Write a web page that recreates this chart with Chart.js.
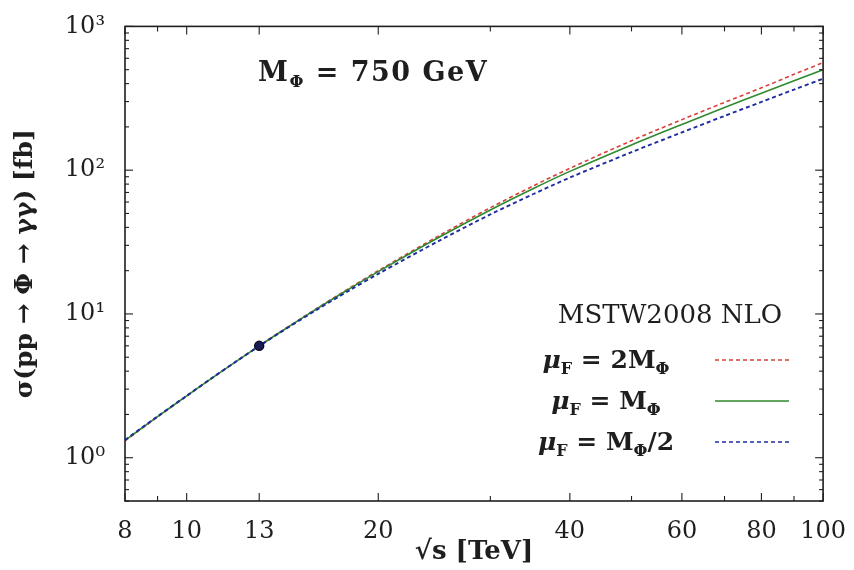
<!DOCTYPE html>
<html>
<head>
<meta charset="utf-8">
<script src="https://cdn.jsdelivr.net/npm/chart.js@4/dist/chart.umd.min.js"></script>
<style>
  html, body { margin: 0; padding: 0; background: #ffffff; }
  #wrap { width: 854px; height: 570px; }
</style>
</head>
<body>
<div id="wrap"><canvas id="c" width="854" height="570"></canvas></div>
<script>
// Centre-of-mass energy sqrt(s) in TeV
const sqrtS = [8, 9, 10, 11, 12, 13, 14, 16, 18, 20, 25, 30, 35, 40, 50, 60, 70, 80, 90, 100];

// sigma(pp -> Phi -> gamma gamma) in fb for three factorisation scales
const xsecMuF2M   = [1.31, 1.92, 2.68, 3.61, 4.72, 6.01, 7.46, 10.91, 15.06, 20.0, 35.3, 54.8, 77.5, 103.0, 160.4, 224.7, 296.0, 374.0, 464.0, 560.0];
const xsecMuFM    = [1.32, 1.93, 2.69, 3.62, 4.72, 6.00, 7.43, 10.83, 14.91, 19.7, 34.4, 52.9, 74.3, 98.1, 149.9, 208.1, 272.6, 343.0, 419.1, 500.3];
const xsecMuFHalf = [1.33, 1.94, 2.70, 3.63, 4.72, 5.98, 7.39, 10.67, 14.54, 19.01, 32.5, 49.2, 68.0, 88.8, 133.4, 183.1, 238.5, 298.4, 363.4, 432.8];

// 13 TeV reference point
const point13 = [{ x: 13, y: 6.0 }];

// Axis ranges and ticks
const xRange = [8, 100];
const yRange = [0.5, 1000];
const xMajorTicks = [8, 10, 13, 20, 40, 60, 80, 100];
const xMinorTicks = [9, 30, 50, 70, 90];
const yMajorTicks = [1, 10, 100, 1000];
const yTickLabels = ['10\u2070', '10\u00B9', '10\u00B2', '10\u00B3'];

const SERIF = "'DejaVu Serif', 'Liberation Serif', serif";
const INK = '#1e1e1e';
const RED = '#d8403c';
const GREEN = '#2f8a2f';
const BLUE = '#1f2ca0';

const toPoints = (vals) => sqrtS.map((s, i) => ({ x: s, y: vals[i] }));

// Draws a run of text pieces with their own fonts and vertical shifts
function drawRich(ctx, parts, x, y, align, spacing) {
  ctx.save();
  ctx.textBaseline = 'alphabetic';
  ctx.textAlign = 'left';
  if (spacing) ctx.letterSpacing = spacing + 'px';
  let total = 0;
  const widths = parts.map(p => { ctx.font = p.font; const w = ctx.measureText(p.t).width; total += w; return w; });
  let cx = align === 'right' ? x - total : align === 'center' ? x - total / 2 : x;
  parts.forEach((p, i) => {
    ctx.font = p.font;
    ctx.fillStyle = p.color || INK;
    ctx.fillText(p.t, cx, y + (p.dy || 0));
    cx += widths[i];
  });
  ctx.restore();
}

// Frame with inward ticks on all four sides
const frameTicks = {
  id: 'frameTicks',
  afterDatasetsDraw(chart) {
    const { ctx, chartArea: a, scales: { x, y } } = chart;
    ctx.save();
    ctx.strokeStyle = INK;
    ctx.lineWidth = 1.6;
    ctx.strokeRect(a.left, a.top, a.right - a.left, a.bottom - a.top);
    ctx.lineWidth = 1.1;
    const seg = (x1, y1, x2, y2) => { ctx.beginPath(); ctx.moveTo(x1, y1); ctx.lineTo(x2, y2); ctx.stroke(); };
    xMajorTicks.forEach(v => { const p = x.getPixelForValue(v); seg(p, a.bottom, p, a.bottom - 8); seg(p, a.top, p, a.top + 8); });
    xMinorTicks.forEach(v => { const p = x.getPixelForValue(v); seg(p, a.bottom, p, a.bottom - 5); seg(p, a.top, p, a.top + 5); });
    yMajorTicks.forEach(v => { const p = y.getPixelForValue(v); seg(a.left, p, a.left + 8, p); seg(a.right, p, a.right - 8, p); });
    [0.1, 1, 10, 100].forEach(base => {
      for (let m = 2; m <= 9; m++) {
        const v = m * base;
        if (v < yRange[0] || v > yRange[1]) continue;
        const p = y.getPixelForValue(v);
        seg(a.left, p, a.left + 4, p); seg(a.right, p, a.right - 4, p);
      }
    });
    ctx.restore();
  }
};

// Mass label and scale legend inside the plot
const annotations = {
  id: 'annotations',
  afterDraw(chart) {
    const ctx = chart.ctx;
    const big = `bold 27px ${SERIF}`;
    const sub = `bold 16px ${SERIF}`;
    drawRich(ctx, [
      { t: 'M', font: big }, { t: '\u03A6', font: sub, dy: 6 }, { t: ' = 750 GeV', font: big }
    ], 258, 81, 'left', 1.5);

    drawRich(ctx, [{ t: 'MSTW2008 NLO', font: `26px ${SERIF}` }], 670, 323, 'center');

    const mu = `bold italic 25px ${SERIF}`;
    const txt = `bold 25px ${SERIF}`;
    const rows = [
      { y: 368, parts: [{ t: '\u03BC', font: mu }, { t: 'F', font: sub, dy: 6 }, { t: ' = 2M', font: txt }, { t: '\u03A6', font: sub, dy: 6 }], color: RED, dash: [4, 3] },
      { y: 409, parts: [{ t: '\u03BC', font: mu }, { t: 'F', font: sub, dy: 6 }, { t: ' = M', font: txt }, { t: '\u03A6', font: sub, dy: 6 }], color: GREEN, dash: [] },
      { y: 450, parts: [{ t: '\u03BC', font: mu }, { t: 'F', font: sub, dy: 6 }, { t: ' = M', font: txt }, { t: '\u03A6', font: sub, dy: 6 }, { t: '/2', font: txt }], color: BLUE, dash: [4, 3] }
    ];
    rows.forEach(r => {
      drawRich(ctx, r.parts, 606, r.y, 'center');
      ctx.save();
      ctx.strokeStyle = r.color;
      ctx.lineWidth = 1.6;
      ctx.setLineDash(r.dash);
      ctx.beginPath();
      ctx.moveTo(715, r.y - 8);
      ctx.lineTo(789, r.y - 8);
      ctx.stroke();
      ctx.restore();
    });
  }
};

new Chart(document.getElementById('c'), {
  type: 'line',
  data: {
    datasets: [
      { label: '\u03BC_F = 2M_\u03A6', data: toPoints(xsecMuF2M), order: 3, borderColor: RED, borderWidth: 1.6, borderDash: [4, 3], pointRadius: 0, tension: 0.3, fill: false },
      { label: '\u03BC_F = M_\u03A6', data: toPoints(xsecMuFM), order: 2, borderColor: GREEN, borderWidth: 1.6, pointRadius: 0, tension: 0.3, fill: false },
      { label: '\u03BC_F = M_\u03A6/2', data: toPoints(xsecMuFHalf), order: 1, borderColor: BLUE, borderWidth: 1.9, borderDash: [4, 3], pointRadius: 0, tension: 0.3, fill: false },
      { label: '13 TeV', type: 'scatter', data: point13, order: 0, pointRadius: 4.5, pointBackgroundColor: '#1c1c55', pointBorderColor: '#0d0d2a', pointBorderWidth: 1.5, showLine: false }
    ]
  },
  options: {
    responsive: false,
    animation: false,
    devicePixelRatio: 1,
    layout: { padding: { top: 24, right: 28, left: 0, bottom: 0 } },
    plugins: { legend: { display: false }, tooltip: { enabled: false } },
    scales: {
      x: {
        type: 'logarithmic',
        min: xRange[0], max: xRange[1],
        afterBuildTicks: (scale) => { scale.ticks = xMajorTicks.map(v => ({ value: v })); },
        afterFit: (scale) => { scale.height = 69; },
        ticks: { color: INK, font: { family: SERIF, size: 24 }, padding: 8, maxRotation: 0, autoSkip: false, callback: (v) => String(v) },
        grid: { display: false },
        border: { display: false },
        title: { display: true, text: '\u221As [TeV]', color: INK, font: { family: SERIF, size: 26, weight: 'bold' }, padding: { top: 0, bottom: 2 } }
      },
      y: {
        type: 'logarithmic',
        min: yRange[0], max: yRange[1],
        afterBuildTicks: (scale) => { scale.ticks = yMajorTicks.map(v => ({ value: v })); },
        afterFit: (scale) => { scale.width = 125; },
        ticks: { color: INK, font: { family: SERIF, size: 24 }, padding: 12, autoSkip: false, callback: (v) => yTickLabels[yMajorTicks.indexOf(v)] },
        grid: { display: false },
        border: { display: false },
        title: { display: true, text: '\u03C3(pp \u2192 \u03A6 \u2192 \u03B3\u03B3) [fb]', color: INK, font: { family: SERIF, size: 25, weight: 'bold' }, padding: { top: 10, bottom: 0 } }
      }
    }
  },
  plugins: [frameTicks, annotations]
});
</script>
</body>
</html>
